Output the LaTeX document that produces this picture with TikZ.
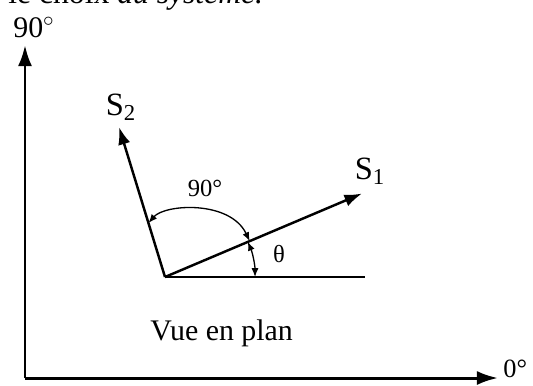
\documentclass[tikz,border=0pt]{standalone}
\usepackage{fontspec}
\setmainfont{Liberation Serif}
\usepackage{tikz}
\usetikzlibrary{arrows.meta}

\begin{document}
\begin{tikzpicture}[
        groß/.style={font=\fontsize{17}{20}\selectfont, inner sep=0pt},
        klein/.style={font=\fontsize{14}{16}\selectfont, inner sep=0pt},
        achse/.style={line width=1.7pt, -{Latex[length=12pt,width=8pt]}},
        vektor/.style={line width=1.4pt, -{Latex[length=10pt,width=7pt]}},
        bezug/.style={line width=1.1pt},
        winkel/.style={line width=0.75pt,
                       {Latex[length=5pt,width=4pt]}-{Latex[length=5pt,width=4pt]}}
    ]
        \useasboundingbox (0,0) rectangle (10.66,7.70);

        % Achsen
        \coordinate (ursprung) at (0.50,0.14);
        \coordinate (nord)     at (0.50,6.80);
        \coordinate (ost)      at (9.96,0.14);
        \draw[achse] (ursprung) -- (nord);
        \draw[achse] (ursprung.center) -- (ost);

        \node[groß, font=\fontsize{18}{21}\selectfont, anchor=base west] (kopf)
            at (0.16,7.63) {le choix \textit{du système.}};
        \node[groß, anchor=base west] (neunzig) at (0.26,6.94) {90$^{\circ}$};
        \node[klein, font=\fontsize{15}{17}\selectfont, anchor=west] (null)
            at (10.06,0.33) {0°};
        \node[groß, anchor=base west] (plan) at (3.00,0.90) {Vue en plan};

        % Vektoren
        \coordinate (O)  at (3.30,2.16);
        \coordinate (h)  at (7.30,2.16);
        \coordinate (s1) at (7.24,3.83);
        \coordinate (s2) at (2.38,5.16);
        \draw[bezug] (O) -- (h);
        \draw[vektor] (O) -- (s1);
        \draw[vektor] (O) -- (s2);
        \node[groß, font=\fontsize{18.5}{21}\selectfont] (l1) at (7.40,4.28)
            {S\textsubscript{1}};
        \node[groß, font=\fontsize{18.5}{21}\selectfont] (l2) at (2.42,5.56)
            {S\textsubscript{2}};

        % Winkel
        \path (O) ++(107:1.13) coordinate (w2);
        \path (O) ++(23:1.84)  coordinate (w1);
        \draw[winkel] (w2) .. controls (3.30,3.62) and (4.60,3.70) .. (w1);
        \node[klein] (rechts) at (4.10,3.94) {90°};

        \path (O) ++(0:1.8) coordinate (t0);
        \draw[winkel] (t0) arc[start angle=0, end angle=23, radius=1.8];
        \node[klein] (theta) at (5.58,2.62) {θ};
    \end{tikzpicture}
\end{document}
